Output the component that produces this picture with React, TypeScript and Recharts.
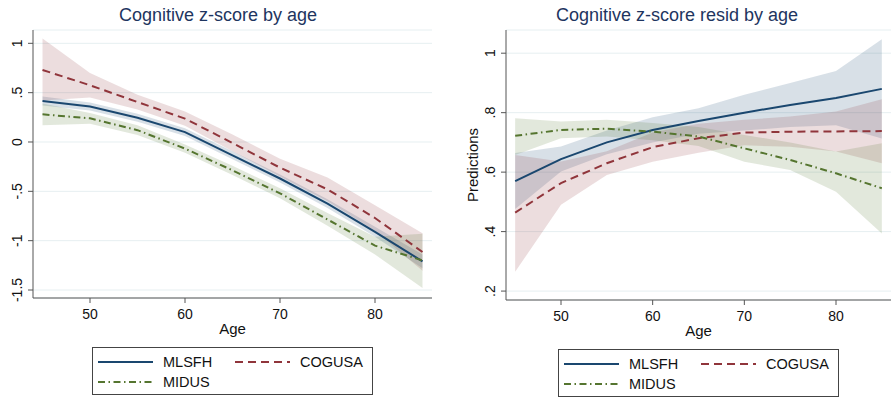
import React from 'react';
import { ComposedChart, Area, Line, XAxis, YAxis, CartesianGrid, Legend } from 'recharts';

// ---------- data ----------
const ages = [45, 50, 55, 60, 65, 70, 75, 80, 85];
const xTicks = [50, 60, 70, 80];

// Left panel: Cognitive z-score by age
const zMlsfh = [0.415, 0.36, 0.245, 0.1, -0.135, -0.37, -0.625, -0.91, -1.21];
const zMlsfhLo = [0.37, 0.32, 0.205, 0.06, -0.175, -0.41, -0.67, -0.96, -1.28];
const zMlsfhHi = [0.46, 0.4, 0.285, 0.14, -0.095, -0.33, -0.58, -0.86, -1.14];
const zCogusa = [0.73, 0.575, 0.405, 0.237, -0.01, -0.26, -0.48, -0.77, -1.115];
const zCogusaLo = [0.42, 0.45, 0.33, 0.165, -0.095, -0.35, -0.6, -0.9, -1.305];
const zCogusaHi = [1.05, 0.7, 0.48, 0.31, 0.075, -0.17, -0.36, -0.64, -0.925];
const zMidus = [0.28, 0.24, 0.12, -0.067, -0.287, -0.52, -0.785, -1.05, -1.2];
const zMidusLo = [0.17, 0.185, 0.07, -0.11, -0.335, -0.57, -0.85, -1.14, -1.48];
const zMidusHi = [0.39, 0.295, 0.17, -0.025, -0.24, -0.47, -0.72, -0.96, -0.93];
const zTicks = [-1.5, -1, -0.5, 0, 0.5, 1];

// Right panel: Cognitive z-score resid by age
const rMlsfh = [0.57, 0.644, 0.7, 0.742, 0.772, 0.8, 0.826, 0.849, 0.88];
const rMlsfhLo = [0.476, 0.602, 0.66, 0.7, 0.729, 0.74, 0.752, 0.758, 0.713];
const rMlsfhHi = [0.664, 0.686, 0.74, 0.785, 0.815, 0.86, 0.9, 0.94, 1.047];
const rCogusa = [0.464, 0.563, 0.63, 0.684, 0.714, 0.733, 0.736, 0.737, 0.738];
const rCogusaLo = [0.265, 0.49, 0.59, 0.635, 0.665, 0.69, 0.685, 0.669, 0.63];
const rCogusaHi = [0.658, 0.636, 0.67, 0.733, 0.763, 0.776, 0.787, 0.804, 0.845];
const rMidus = [0.722, 0.742, 0.746, 0.736, 0.72, 0.68, 0.641, 0.596, 0.546];
const rMidusLo = [0.658, 0.714, 0.72, 0.707, 0.688, 0.635, 0.607, 0.534, 0.394];
const rMidusHi = [0.781, 0.77, 0.776, 0.765, 0.752, 0.725, 0.7, 0.669, 0.697];
const rTicks = [0.2, 0.4, 0.6, 0.8, 1];

const seriesNames = ['MLSFH', 'COGUSA', 'MIDUS'];
const seriesColors = ['#1a476f', '#90353b', '#55752f'];
const seriesDash = ['', '8 5', '7 3.5 1.5 3.5'];

// ---------- helpers ----------
const FONT = "'Liberation Sans', Arial, Helvetica, sans-serif";

function buildRows(
  m: number[], mLo: number[], mHi: number[],
  c: number[], cLo: number[], cHi: number[],
  d: number[], dLo: number[], dHi: number[]
) {
  return ages.map((age, i) => ({
    age,
    MLSFH: m[i],
    MLSFHband: [mLo[i], mHi[i]],
    COGUSA: c[i],
    COGUSAband: [cLo[i], cHi[i]],
    MIDUS: d[i],
    MIDUSband: [dLo[i], dHi[i]],
  }));
}

const leftRows = buildRows(zMlsfh, zMlsfhLo, zMlsfhHi, zCogusa, zCogusaLo, zCogusaHi, zMidus, zMidusLo, zMidusHi);
const rightRows = buildRows(rMlsfh, rMlsfhLo, rMlsfhHi, rCogusa, rCogusaLo, rCogusaHi, rMidus, rMidusLo, rMidusHi);

const fmtY = (v: number) => String(v).replace(/^0\./, '.').replace(/^-0\./, '-.');

const XTick = (props: any) => {
  const { x, y, payload } = props;
  return (
    <text x={x} y={y + 15} textAnchor="middle" fontFamily={FONT} fontSize={14} fill="#111">
      {payload.value}
    </text>
  );
};

const YTick = (props: any) => {
  const { x, y, payload } = props;
  const bx = x - 5;
  return (
    <text x={bx} y={y} transform={`rotate(-90 ${bx} ${y})`} textAnchor="middle" fontFamily={FONT} fontSize={14} fill="#111">
      {fmtY(payload.value)}
    </text>
  );
};

const LegendBox = () => {
  const keyLine = (i: number, x1: number, y: number) => (
    <line x1={x1} x2={x1 + 55} y1={y} y2={y} stroke={seriesColors[i]} strokeWidth={2} strokeDasharray={seriesDash[i] || undefined} />
  );
  const label = (t: string, x: number, y: number) => (
    <text x={x} y={y} fontFamily={FONT} fontSize={14.5} fill="#111">{t}</text>
  );
  return (
    <div style={{ width: 281, height: 48, border: '1px solid #444', boxSizing: 'border-box', background: '#fff' }}>
      <svg width={279} height={46} style={{ display: 'block' }}>
        {keyLine(0, 5, 14)}
        {label(seriesNames[0], 70, 19)}
        {keyLine(1, 142, 14)}
        {label(seriesNames[1], 207, 19)}
        {keyLine(2, 5, 34)}
        {label(seriesNames[2], 70, 39)}
      </svg>
    </div>
  );
};

type PanelProps = {
  rows: any[];
  width: number;
  yDomain: [number, number];
  yTicks: number[];
  yAxisWidth: number;
  marginRight: number;
  marginBottom: number;
  legendLeft: number;
  yLabel?: string;
};

const Panel = ({ rows, width, yDomain, yTicks, yAxisWidth, marginRight, marginBottom, legendLeft, yLabel }: PanelProps) => (
  <ComposedChart
    width={width}
    height={399}
    data={rows}
    margin={{ top: 30, right: marginRight, left: 0, bottom: marginBottom }}
  >
    <CartesianGrid horizontal vertical={false} stroke="#e6eff1" strokeWidth={1} />
    <XAxis
      dataKey="age"
      type="number"
      domain={[44, 86]}
      allowDataOverflow
      ticks={xTicks}
      tick={<XTick />}
      tickSize={5}
      tickMargin={1}
      height={49}
      stroke="#555"
      tickLine={{ stroke: '#555' }}
      label={(p: any) => {
        const vb = p.viewBox;
        return (
          <text x={vb.x + vb.width / 2} y={vb.y + 36} textAnchor="middle" fontFamily={FONT} fontSize={15} fill="#111">
            Age
          </text>
        );
      }}
    />
    <YAxis
      type="number"
      domain={yDomain}
      allowDataOverflow
      ticks={yTicks}
      tick={<YTick />}
      tickSize={5}
      tickMargin={1}
      width={yAxisWidth}
      stroke="#555"
      tickLine={{ stroke: '#555' }}
      label={
        yLabel
          ? (p: any) => {
              const vb = p.viewBox;
              const lx = vb.x + 28;
              const ly = vb.y + vb.height / 2;
              return (
                <text x={lx} y={ly} transform={`rotate(-90 ${lx} ${ly})`} textAnchor="middle" fontFamily={FONT} fontSize={15} fill="#111">
                  {yLabel}
                </text>
              );
            }
          : undefined
      }
    />
    {seriesNames.map((n, i) => (
      <Area
        key={n + 'band'}
        dataKey={n + 'band'}
        type="linear"
        stroke="none"
        fill={seriesColors[i]}
        fillOpacity={0.17}
        isAnimationActive={false}
        dot={false}
        activeDot={false}
      />
    ))}
    {seriesNames.map((n, i) => (
      <Line
        key={n}
        dataKey={n}
        type="linear"
        stroke={seriesColors[i]}
        strokeWidth={2}
        strokeDasharray={seriesDash[i] || undefined}
        dot={false}
        activeDot={false}
        isAnimationActive={false}
      />
    ))}
    <Legend
      verticalAlign="bottom"
      align="left"
      content={() => <LegendBox />}
      wrapperStyle={{ left: legendLeft, bottom: marginBottom, width: 281, height: 48 }}
    />
  </ComposedChart>
);

export default function App() {
  return (
    <div style={{ position: 'absolute', left: 0, top: 0, width: 891, height: 399, background: '#fff', overflow: 'hidden' }}>
      <svg width={891} height={30} style={{ position: 'absolute', left: 0, top: 0 }}>
        <text x={218} y={20.5} textAnchor="middle" fontFamily={FONT} fontSize={18} fill="#1e3560">
          Cognitive z-score by age
        </text>
        <text x={677} y={20.5} textAnchor="middle" fontFamily={FONT} fontSize={18} fill="#1e3560">
          Cognitive z-score resid by age
        </text>
      </svg>
      <div style={{ position: 'absolute', left: 0, top: 0 }}>
        <Panel
          rows={leftRows}
          width={440}
          yDomain={[-1.581, 1.135]}
          yTicks={zTicks}
          yAxisWidth={33}
          marginRight={8}
          marginBottom={4}
          legendLeft={92}
        />
      </div>
      <div style={{ position: 'absolute', left: 450, top: 0 }}>
        <Panel
          rows={rightRows}
          width={441}
          yDomain={[0.17, 1.078]}
          yTicks={rTicks}
          yAxisWidth={56}
          marginRight={0}
          marginBottom={2}
          legendLeft={108}
          yLabel="Predictions"
        />
      </div>
    </div>
  );
}
